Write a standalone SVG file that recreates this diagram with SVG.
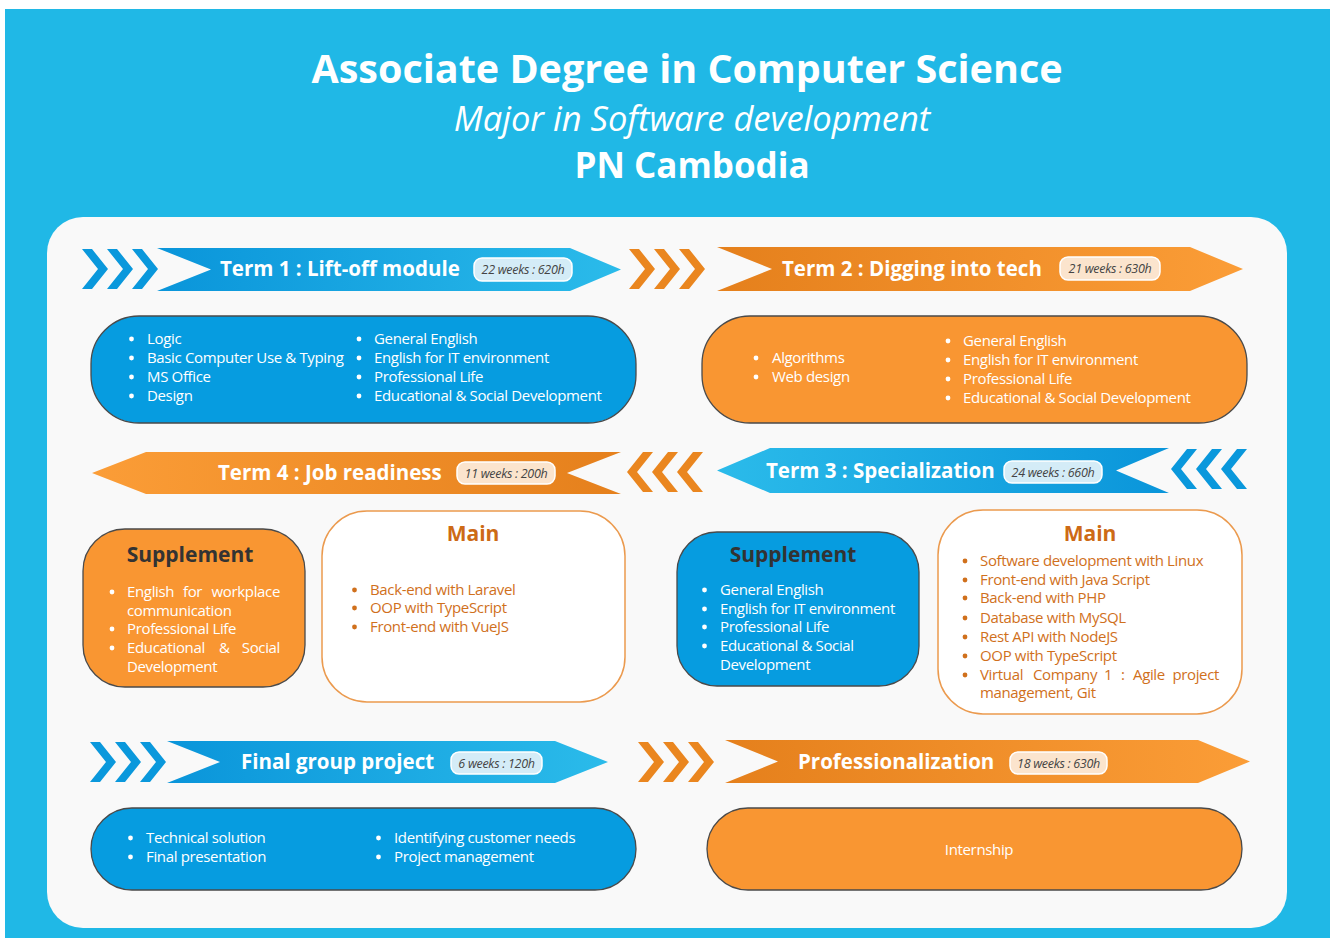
<svg xmlns="http://www.w3.org/2000/svg" width="1330" height="938" viewBox="0 0 1330 938">
<defs>
<linearGradient id="gBlueR" x1="0" y1="0" x2="1" y2="0"><stop offset="0" stop-color="#0a95da"/><stop offset="1" stop-color="#2bbbea"/></linearGradient>
<linearGradient id="gBlueL" x1="1" y1="0" x2="0" y2="0"><stop offset="0" stop-color="#0a95da"/><stop offset="1" stop-color="#2bbbea"/></linearGradient>
<linearGradient id="gOrR" x1="0" y1="0" x2="1" y2="0"><stop offset="0" stop-color="#e5801c"/><stop offset="1" stop-color="#fb9d37"/></linearGradient>
<linearGradient id="gOrL" x1="1" y1="0" x2="0" y2="0"><stop offset="0" stop-color="#e5801c"/><stop offset="1" stop-color="#fb9d37"/></linearGradient>
<path id="chR" d="M0,0 L10,0 L26,20 L10,40 L0,40 L16,20 Z"/>
<path id="chL" d="M26,0 L16,0 L0,20 L16,40 L26,40 L10,20 Z"/>
</defs>
<style>
text{font-family:'Open Sans','Liberation Sans',sans-serif}
.body{font-size:15px;letter-spacing:-0.35px;fill:#ffffff}
.mt{fill:#d0701c}
.hd{font-size:20.5px;font-weight:bold;fill:#ffffff}
.bt{font-size:12.5px;font-style:italic;fill:#444444;letter-spacing:-0.3px;text-anchor:middle}
.sup{font-size:21px;font-weight:bold;fill:#333333;text-anchor:middle}
.mainh{font-size:21px;font-weight:bold;fill:#cd6a16;text-anchor:middle}
.bbox{fill:#069ce0;stroke:#4a4a4a;stroke-width:1.3}
.obox{fill:#f99632;stroke:#4a4a4a;stroke-width:1.3}
.wbox{fill:#ffffff;stroke:#eb9a4e;stroke-width:1.5}
.bb{fill:#d4ecf7;stroke:#ffffff;stroke-width:1.5}
.ob{fill:#fbe4cd;stroke:#ffffff;stroke-width:1.5}
.dw{fill:#ffffff}
.do{fill:#d0701c}
.cb{fill:#0a98dc}
.co{fill:#ea861f}
</style>
<rect x="0" y="0" width="1330" height="938" fill="#ffffff"/>
<rect x="5" y="9" width="1325" height="929" fill="#20b8e6"/>
<rect x="47" y="217" width="1240" height="711" rx="36" fill="#f9f9f9"/>

<g id="title">
<text x="687" y="83" text-anchor="middle" font-size="39.5" font-weight="bold" fill="#ffffff">Associate Degree in Computer Science</text>
<text x="692" y="131" text-anchor="middle" font-size="34.5" font-style="italic" fill="#ffffff">Major in Software development</text>
<text x="692" y="178" text-anchor="middle" font-size="35" font-weight="bold" fill="#ffffff">PN Cambodia</text>
</g>

<g id="connectors">
<use href="#chR" x="82" y="249" class="cb"/><use href="#chR" x="107" y="249" class="cb"/><use href="#chR" x="132" y="249" class="cb"/>
<use href="#chR" x="629" y="249" class="co"/><use href="#chR" x="654" y="249" class="co"/><use href="#chR" x="679" y="249" class="co"/>
<use href="#chL" x="627" y="452" class="co"/><use href="#chL" x="652" y="452" class="co"/><use href="#chL" x="677" y="452" class="co"/>
<use href="#chL" x="1171" y="449" class="cb"/><use href="#chL" x="1196" y="449" class="cb"/><use href="#chL" x="1221" y="449" class="cb"/>
<use href="#chR" x="90" y="742" class="cb"/><use href="#chR" x="115" y="742" class="cb"/><use href="#chR" x="140" y="742" class="cb"/>
<use href="#chR" x="638" y="742" class="co"/><use href="#chR" x="663" y="742" class="co"/><use href="#chR" x="688" y="742" class="co"/>
</g>

<g id="term1">
<path d="M157,248 L570,248 L621,269.5 L570,291 L157,291 L211,269.5 Z" fill="url(#gBlueR)"/>
<text x="220" y="276" class="hd">Term 1 : Lift-off module</text>
<rect x="474" y="258" width="98" height="23" rx="8" class="bb"/>
<text x="523" y="274" class="bt">22 weeks : 620h</text>
<rect x="91" y="316" width="545" height="107" rx="48" class="bbox"/>
<g class="dw"><circle cx="131.5" cy="339" r="2.4"/><circle cx="131.5" cy="358" r="2.4"/><circle cx="131.5" cy="377" r="2.4"/><circle cx="131.5" cy="396" r="2.4"/>
<circle cx="359" cy="339" r="2.4"/><circle cx="359" cy="358" r="2.4"/><circle cx="359" cy="377" r="2.4"/><circle cx="359" cy="396" r="2.4"/></g>
<text class="body" x="147" y="344">Logic</text>
<text class="body" x="147" y="363">Basic Computer Use &amp; Typing</text>
<text class="body" x="147" y="382">MS Office</text>
<text class="body" x="147" y="401">Design</text>
<text class="body" x="374" y="344">General English</text>
<text class="body" x="374" y="363">English for IT environment</text>
<text class="body" x="374" y="382">Professional Life</text>
<text class="body" x="374" y="401">Educational &amp; Social Development</text>
</g>

<g id="term2">
<path d="M717,247 L1190,247 L1243,269 L1190,291 L717,291 L772,269 Z" fill="url(#gOrR)"/>
<text x="782" y="276" class="hd">Term 2 : Digging into tech</text>
<rect x="1060" y="257" width="100" height="23" rx="8" class="ob"/>
<text x="1110" y="273" class="bt">21 weeks : 630h</text>
<rect x="702" y="316" width="545" height="107" rx="48" class="obox"/>
<g class="dw"><circle cx="756" cy="358" r="2.4"/><circle cx="756" cy="377" r="2.4"/>
<circle cx="948" cy="341" r="2.4"/><circle cx="948" cy="360" r="2.4"/><circle cx="948" cy="379" r="2.4"/><circle cx="948" cy="398" r="2.4"/></g>
<text class="body" x="772" y="363">Algorithms</text>
<text class="body" x="772" y="382">Web design</text>
<text class="body" x="963" y="346">General English</text>
<text class="body" x="963" y="365">English for IT environment</text>
<text class="body" x="963" y="384">Professional Life</text>
<text class="body" x="963" y="403">Educational &amp; Social Development</text>
</g>

<g id="term4">
<path d="M92,473 L146,452 L621,452 L567,473 L621,494 L146,494 Z" fill="url(#gOrL)"/>
<text x="218" y="480" class="hd">Term 4 : Job readiness</text>
<rect x="457" y="462" width="98" height="22" rx="8" class="ob"/>
<text x="506" y="477.5" class="bt">11 weeks : 200h</text>
</g>

<g id="term4-supplement">
<rect x="83" y="529" width="222" height="158" rx="42" class="obox"/>
<text x="190" y="562" class="sup">Supplement</text>
<g class="dw"><circle cx="112" cy="592" r="2.4"/><circle cx="112" cy="629" r="2.4"/><circle cx="112" cy="648" r="2.4"/></g>
<text class="body" x="127" y="597">English</text>
<text class="body" x="183" y="597">for</text>
<text class="body" x="280" y="597" text-anchor="end">workplace</text>
<text class="body" x="127" y="616">communication</text>
<text class="body" x="127" y="634">Professional Life</text>
<text class="body" x="127" y="653">Educational</text>
<text class="body" x="219" y="653">&amp;</text>
<text class="body" x="280" y="653" text-anchor="end">Social</text>
<text class="body" x="127" y="672">Development</text>
</g>

<g id="term4-main">
<rect x="322" y="511" width="303" height="191" rx="45" class="wbox"/>
<text x="473" y="541" class="mainh">Main</text>
<g class="do"><circle cx="354.5" cy="590" r="2.4"/><circle cx="354.5" cy="608" r="2.4"/><circle cx="354.5" cy="627" r="2.4"/></g>
<text class="body mt" x="370" y="595">Back-end with Laravel</text>
<text class="body mt" x="370" y="613">OOP with TypeScript</text>
<text class="body mt" x="370" y="632">Front-end with VueJS</text>
</g>

<g id="term3">
<path d="M717,470.5 L770,448 L1169,448 L1116,470.5 L1169,493 L770,493 Z" fill="url(#gBlueL)"/>
<text x="766" y="478" class="hd">Term 3 : Specialization</text>
<rect x="1004" y="461" width="98" height="22" rx="8" class="bb"/>
<text x="1053" y="476.5" class="bt">24 weeks : 660h</text>
</g>

<g id="term3-supplement">
<rect x="677" y="532" width="242" height="154" rx="40" class="bbox"/>
<text x="793" y="562" class="sup">Supplement</text>
<g class="dw"><circle cx="704.5" cy="590" r="2.4"/><circle cx="704.5" cy="609" r="2.4"/><circle cx="704.5" cy="627" r="2.4"/><circle cx="704.5" cy="646" r="2.4"/></g>
<text class="body" x="720" y="595">General English</text>
<text class="body" x="720" y="614">English for IT environment</text>
<text class="body" x="720" y="632">Professional Life</text>
<text class="body" x="720" y="651">Educational &amp; Social</text>
<text class="body" x="720" y="670">Development</text>
</g>

<g id="term3-main">
<rect x="938" y="510" width="304" height="204" rx="45" class="wbox"/>
<text x="1090" y="541" class="mainh">Main</text>
<g class="do"><circle cx="965" cy="561" r="2.4"/><circle cx="965" cy="580" r="2.4"/><circle cx="965" cy="598" r="2.4"/><circle cx="965" cy="618" r="2.4"/><circle cx="965" cy="637" r="2.4"/><circle cx="965" cy="656" r="2.4"/><circle cx="965" cy="675" r="2.4"/></g>
<text class="body mt" x="980" y="566">Software development with Linux</text>
<text class="body mt" x="980" y="585">Front-end with Java Script</text>
<text class="body mt" x="980" y="603">Back-end with PHP</text>
<text class="body mt" x="980" y="623">Database with MySQL</text>
<text class="body mt" x="980" y="642">Rest API with NodeJS</text>
<text class="body mt" x="980" y="661">OOP with TypeScript</text>
<text class="body mt" x="980" y="680">Virtual</text>
<text class="body mt" x="1033" y="680">Company</text>
<text class="body mt" x="1104" y="680">1</text>
<text class="body mt" x="1121" y="680">:</text>
<text class="body mt" x="1133" y="680">Agile</text>
<text class="body mt" x="1219" y="680" text-anchor="end">project</text>
<text class="body mt" x="980" y="698">management, Git</text>
</g>

<g id="final-project">
<path d="M167,741 L555,741 L608,762 L555,783 L167,783 L220,762 Z" fill="url(#gBlueR)"/>
<text x="241" y="769" class="hd">Final group project</text>
<rect x="451" y="752" width="91" height="22" rx="8" class="bb"/>
<text x="496.5" y="767.5" class="bt">6 weeks : 120h</text>
<rect x="91" y="808" width="545" height="82" rx="41" class="bbox"/>
<g class="dw"><circle cx="130.5" cy="838" r="2.4"/><circle cx="130.5" cy="857" r="2.4"/><circle cx="378.5" cy="838" r="2.4"/><circle cx="378.5" cy="857" r="2.4"/></g>
<text class="body" x="146" y="843">Technical solution</text>
<text class="body" x="146" y="862">Final presentation</text>
<text class="body" x="394" y="843">Identifying customer needs</text>
<text class="body" x="394" y="862">Project management</text>
</g>

<g id="professionalization">
<path d="M725,740 L1198,740 L1250,761.5 L1198,783 L725,783 L778,761.5 Z" fill="url(#gOrR)"/>
<text x="798" y="769" class="hd">Professionalization</text>
<rect x="1010" y="752" width="97" height="22" rx="8" class="ob"/>
<text x="1058.5" y="767.5" class="bt">18 weeks : 630h</text>
<rect x="707" y="808" width="535" height="82" rx="41" class="obox"/>
<text class="body" x="979" y="855" text-anchor="middle">Internship</text>
</g>
</svg>
